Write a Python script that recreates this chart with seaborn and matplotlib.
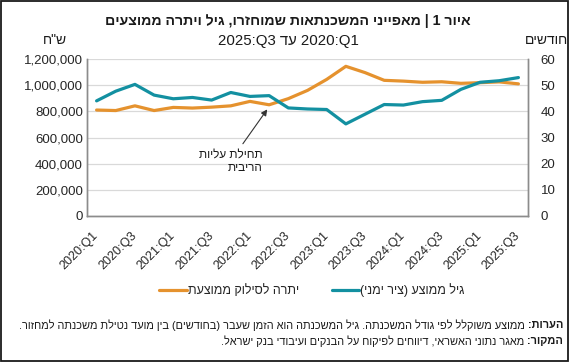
import re
import numpy as np
import pandas as pd
import matplotlib
matplotlib.use("Agg")
import matplotlib.pyplot as plt
from matplotlib.patches import Rectangle
from matplotlib.ticker import FuncFormatter
import seaborn as sns

# ---------------- data ----------------
quarters = ["2020:Q1", "2020:Q2", "2020:Q3", "2020:Q4",
            "2021:Q1", "2021:Q2", "2021:Q3", "2021:Q4",
            "2022:Q1", "2022:Q2", "2022:Q3", "2022:Q4",
            "2023:Q1", "2023:Q2", "2023:Q3", "2023:Q4",
            "2024:Q1", "2024:Q2", "2024:Q3", "2024:Q4",
            "2025:Q1", "2025:Q2", "2025:Q3"]
balance = [810000, 806000, 842000, 806000, 830000, 825000, 832000, 842000,
           876000, 850000, 897000, 960000, 1044000, 1144000, 1096000, 1037000,
           1031000, 1022000, 1026000, 1014000, 1019000, 1025000, 1010000]
age_months = [44.0, 47.7, 50.3, 46.2, 44.8, 45.3, 44.3, 47.2, 45.7, 46.0, 41.3,
              40.9, 40.7, 35.2, 38.9, 42.6, 42.4, 43.7, 44.2, 48.4, 51.1, 51.7, 52.9]
left_ticks = [0, 200000, 400000, 600000, 800000, 1000000, 1200000]
right_ticks = [0, 10, 20, 30, 40, 50, 60]

title_1 = "איור 1 | מאפייני המשכנתאות שמוחזרו, גיל ויתרה ממוצעים"
title_2 = "2020:Q1 עד 2025:Q3"
left_unit = 'ש"ח'
right_unit = "חודשים"
label_balance = "יתרה לסילוק ממוצעת"
label_age = "גיל ממוצע (ציר ימני)"
annotation_lines = ["תחילת עליות", "הריבית"]
note_head = "הערות:"
note_body = "ממוצע משוקלל לפי גודל המשכנתה. גיל המשכנתה הוא הזמן שעבר (בחודשים) בין מועד נטילת משכנתה למחזור."
source_head = "המקור:"
source_body = "מאגר נתוני האשראי, דיווחים לפיקוח על הבנקים ועיבודי בנק ישראל."


def rtl(s):
    """Simple visual reordering for right-to-left text."""
    mirror = {"(": ")", ")": "("}
    r = "".join(mirror.get(c, c) for c in reversed(s))
    return re.sub(r"[A-Za-z0-9][A-Za-z0-9:.,]*[A-Za-z0-9]|[A-Za-z0-9]",
                  lambda m: m.group(0)[::-1], r)


ORANGE = "#E5922E"
TEAL = "#1390A1"

sns.set_style("white")
plt.rcParams["font.family"] = ["Liberation Sans", "DejaVu Sans"]

W, H = 573, 363
fig = plt.figure(figsize=(W / 100, H / 100), dpi=100)
ax = fig.add_axes([87 / W, 1 - 216 / H, (528 - 87) / W, (216 - 59) / H])
ax2 = ax.twinx()

df = pd.DataFrame({"pos": np.arange(len(quarters)), "quarter": quarters,
                   "balance": balance, "age": age_months})

sns.lineplot(data=df, x="pos", y="balance", ax=ax, color=ORANGE, lw=2.3, legend=False)
sns.lineplot(data=df, x="pos", y="age", ax=ax2, color=TEAL, lw=2.3, legend=False)

ax.set_xlim(-0.5, len(quarters) - 0.5)
ax.set_ylim(0, 1200000)
ax2.set_ylim(0, 60)
ax.set_yticks(left_ticks)
ax2.set_yticks(right_ticks)
ax.yaxis.set_major_formatter(FuncFormatter(lambda v, p: f"{v:,.0f}"))
ax.set_xticks(df["pos"][::2])
ax.set_xticklabels(df["quarter"][::2], rotation=45, ha="right", va="center",
                   rotation_mode="anchor")
ax.set_xlabel("")
ax.set_ylabel("")
ax2.set_ylabel("")

ax.grid(axis="y", color="#D9D9D9", lw=0.9)
ax.grid(axis="x", visible=False)
ax2.grid(False)
ax.set_axisbelow(True)

for a in (ax, ax2):
    a.spines["top"].set_visible(False)
    for side in ("left", "bottom", "right"):
        a.spines[side].set_color("#8C8C8C")
        a.spines[side].set_linewidth(1.0)
ax.tick_params(axis="y", length=0, pad=3, labelsize=9.5, labelcolor="#262626")
ax2.tick_params(axis="y", length=0, pad=9, labelsize=9.5, labelcolor="#262626")
ax.tick_params(axis="x", length=0, pad=13, labelsize=9, labelcolor="#262626")

# titles / units
fig.text(0.503, 1 - 21 / H, rtl(title_1), ha="center", va="center",
         fontsize=10.2, fontweight="bold", color="#1a1a1a")
fig.text(0.503, 1 - 41 / H, rtl(title_2), ha="center", va="center",
         fontsize=10.8, color="#1a1a1a")
fig.text(55 / W, 1 - 40 / H, rtl(left_unit), ha="center", va="center",
         fontsize=10, color="#1a1a1a")
fig.text(546 / W, 1 - 40 / H, rtl(right_unit), ha="center", va="center",
         fontsize=10, color="#1a1a1a")

# annotation
ax.annotate("\n".join(rtl(t) for t in annotation_lines),
            xy=(8.9, 815000), xytext=(8.65, 420000),
            ha="right", va="center", multialignment="right",
            fontsize=8.5, color="#1a1a1a",
            arrowprops=dict(arrowstyle="-|>", color="#333333", lw=0.8,
                            mutation_scale=9, shrinkA=1, shrinkB=0))

# legend
h1 = ax.lines[0]
h2 = ax2.lines[0]
fig.legend([h1, h2], [rtl(label_balance), rtl(label_age)],
           loc="center", bbox_to_anchor=(312 / W, 1 - 290 / H),
           ncol=2, frameon=False, fontsize=9, handlelength=2.2,
           handletextpad=0.1, columnspacing=2.6)

# notes
renderer = fig.canvas.get_renderer()
right_x = 563
for y, head, body in [(325, note_head, note_body), (341, source_head, source_body)]:
    t = fig.text(right_x / W, 1 - y / H, rtl(head), ha="right", va="center",
                 fontsize=7.9, fontweight="bold", color="#1a1a1a")
    bb = t.get_window_extent(renderer)
    fig.text((bb.x0 - 3) / W, 1 - y / H, rtl(body), ha="right", va="center",
             fontsize=7.9, color="#1a1a1a")

# outer frame
fig.patches.append(Rectangle((1 / W, 1 - 361 / H), 567 / W, 360 / H,
                             transform=fig.transFigure, fill=False,
                             edgecolor="#1a1a1a", lw=1.3))

fig.savefig("out.png", dpi=100)
